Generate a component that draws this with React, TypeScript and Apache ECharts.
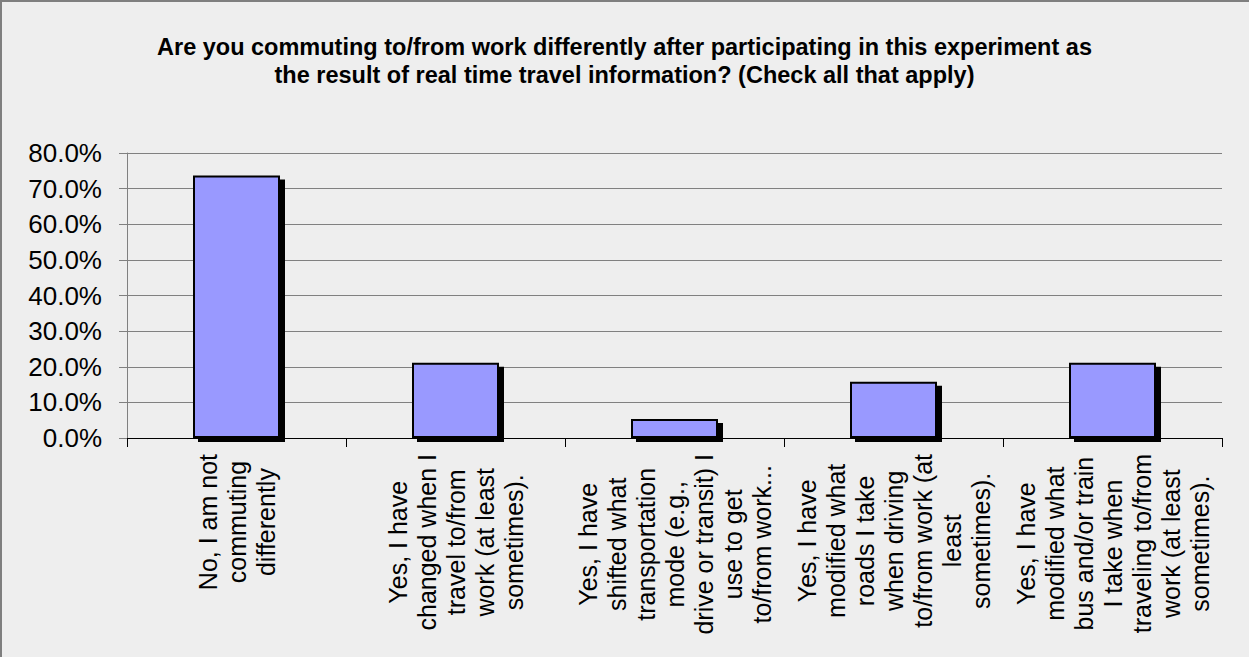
import React, { useEffect, useRef } from "react";
import * as echarts from "echarts";

const titleLines = [
  "Are you commuting to/from work differently after participating in this experiment as",
  "the result of real time travel information? (Check all that apply)",
];

const categories = [
  "No, I am not\ncommuting\ndifferently",
  "Yes, I have\nchanged when I\ntravel to/from\nwork (at least\nsometimes).",
  "Yes, I have\nshifted what\ntransportation\nmode (e.g.,\ndrive or transit) I\nuse to get\nto/from work...",
  "Yes, I have\nmodified what\nroads I take\nwhen driving\nto/from work (at\nleast\nsometimes).",
  "Yes, I have\nmodified what\nbus and/or train\nI take when\ntraveling to/from\nwork (at least\nsometimes).",
];

const values = [0.737, 0.211, 0.053, 0.158, 0.211];

const yMin = 0;
const yMax = 0.8;
const yStep = 0.1;

const FONT = "'Liberation Sans', Arial, sans-serif";

export default function App() {
  const ref = useRef<HTMLDivElement>(null);

  useEffect(() => {
    if (!ref.current) return;
    const chart = echarts.init(ref.current, undefined, { renderer: "svg" });
    chart.setOption({
      animation: false,
      backgroundColor: "#EEEEEE",
      textStyle: { fontFamily: FONT },
      graphic: [
        {
          type: "rect",
          z: -1,
          shape: { x: 1, y: 1, width: 1300, height: 700 },
          style: { fill: "none", stroke: "#7f7f7f", lineWidth: 2 },
          silent: true,
        },
      ],
      title: {
        text: titleLines.join("\n"),
        left: "center",
        top: 28,
        textStyle: {
          fontFamily: FONT,
          fontSize: 23.5,
          fontWeight: "bold",
          color: "#000",
          lineHeight: 28,
        },
      },
      grid: { left: 127, right: 27, top: 153, bottom: 219, containLabel: false },
      xAxis: {
        type: "category",
        data: categories,
        axisLine: { show: true, lineStyle: { color: "#000", width: 1 } },
        axisTick: { show: true, length: 9, lineStyle: { color: "#000" } },
        axisLabel: {
          rotate: 90,
          interval: 0,
          margin: 16,
          color: "#000",
          fontFamily: FONT,
          fontSize: 25,
          lineHeight: 29,
          formatter: (v: string) =>
            v
              .split("\n")
              .map((l) => "{c|" + l + "}")
              .join("\n"),
          rich: {
            c: {
              align: "center",
              fontFamily: FONT,
              fontSize: 25,
              lineHeight: 29,
              color: "#000",
            },
          },
        },
      },
      yAxis: {
        type: "value",
        min: yMin,
        max: yMax,
        interval: yStep,
        axisLine: { show: true, lineStyle: { color: "#808080", width: 1 } },
        axisTick: { show: true, length: 8, lineStyle: { color: "#808080" } },
        splitLine: { show: true, lineStyle: { color: "#808080", width: 1 } },
        axisLabel: {
          margin: 25,
          color: "#000",
          fontFamily: FONT,
          fontSize: 26,
          formatter: (v: number) => (v * 100).toFixed(1) + "%",
        },
      },
      series: [
        {
          type: "bar",
          data: values,
          barWidth: 87,
          itemStyle: {
            color: "#9999FF",
            borderColor: "#000",
            borderWidth: 2,
            shadowColor: "#000",
            shadowBlur: 0,
            shadowOffsetX: 5,
            shadowOffsetY: 4,
          },
        },
      ],
    });
    return () => chart.dispose();
  }, []);

  return (
    <div
      ref={ref}
      style={{ position: "fixed", left: 0, top: 0, width: 1249, height: 657 }}
    />
  );
}
